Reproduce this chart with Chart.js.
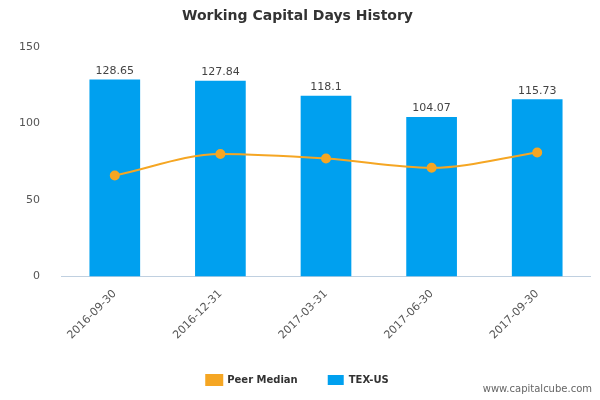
<!DOCTYPE html>
<html>
<head>
<script src="https://cdn.jsdelivr.net/npm/chart.js@4"></script>
<style>
  body { margin: 0; background: #fff; }
  #wrap { position: relative; width: 600px; height: 400px; }
  #credit { position: absolute; right: 8px; bottom: 6px; font: 10px "DejaVu Sans", sans-serif; color: #666; }
</style>
</head>
<body>
<div id="wrap">
  <canvas id="chart" width="600" height="400"></canvas>
  <div id="credit">www.capitalcube.com</div>
</div>
<script>
const categories = ['2016-09-30', '2016-12-31', '2017-03-31', '2017-06-30', '2017-09-30'];
const companyValues = [128.65, 127.84, 118.1, 104.07, 115.73];
const peerMedian = [66, 80, 77, 71, 81];
const yTicks = [0, 50, 100, 150];

// draws value labels above bars
const barLabels = {
  id: 'barLabels',
  afterDatasetsDraw(chart) {
    const ctx = chart.ctx;
    const meta = chart.getDatasetMeta(0);
    ctx.save();
    ctx.font = '11px "DejaVu Sans", sans-serif';
    ctx.fillStyle = '#444';
    ctx.textAlign = 'center';
    ctx.textBaseline = 'bottom';
    meta.data.forEach((bar, i) => {
      ctx.fillText(String(companyValues[i]), bar.x, bar.y - 3);
    });
    ctx.restore();
  }
};

new Chart(document.getElementById('chart'), {
  data: {
    labels: categories,
    datasets: [
      { type: 'bar', label: 'TEX-US', data: companyValues, backgroundColor: '#00a0ef',
        barPercentage: 0.48, categoryPercentage: 1, order: 2 },
      { type: 'line', label: 'Peer Median', data: peerMedian, borderColor: '#f5a623',
        backgroundColor: '#f5a623', borderWidth: 2, pointRadius: 4, tension: 0.4,
        cubicInterpolationMode: 'monotone', order: 1 }
    ]
  },
  options: {
    responsive: false,
    animation: false,
    layout: { padding: { left: 5, right: 10, top: 0, bottom: 5 } },
    plugins: {
      title: { display: true, text: 'Working Capital Days History', color: '#333',
        font: { family: '"DejaVu Sans", sans-serif', size: 14, weight: 'bold' }, padding: { top: 8, bottom: 22 } },
      legend: { position: 'bottom', labels: { usePointStyle: false, boxWidth: 16, boxHeight: 10,
        color: '#333', font: { family: '"DejaVu Sans", sans-serif', size: 10, weight: 'bold' }, padding: 30 } },
      tooltip: { enabled: false }
    },
    scales: {
      x: {
        grid: { display: false, drawTicks: true },
        border: { color: '#c0d0e0' },
        ticks: { maxRotation: 45, minRotation: 45, color: '#555',
          font: { family: '"DejaVu Sans", sans-serif', size: 11 } }
      },
      y: {
        min: 0, max: 150,
        afterBuildTicks: axis => { axis.ticks = yTicks.map(v => ({ value: v })); },
        grid: { display: false },
        border: { display: false },
        ticks: { color: '#555', padding: 14, font: { family: '"DejaVu Sans", sans-serif', size: 11 } }
      }
    }
  },
  plugins: [barLabels]
});
</script>
</body>
</html>
